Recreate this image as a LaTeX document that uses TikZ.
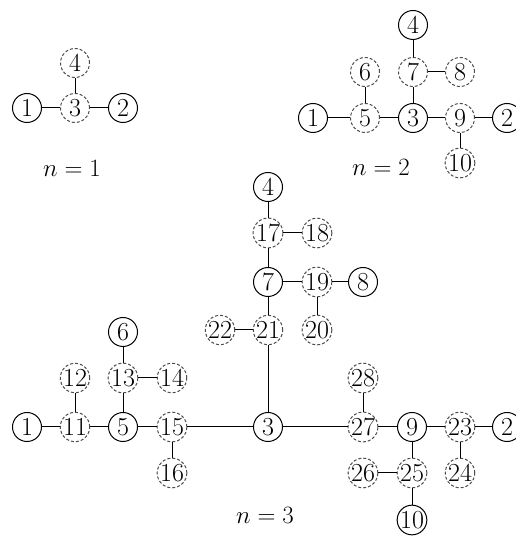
\documentclass[tikz,border=0pt]{standalone}
\begin{document}
\begin{tikzpicture}[x=1pt,y=1pt,
  sc/.style={circle,draw=black,line width=1pt,minimum size=29pt,inner sep=0pt,font=\fontsize{26}{26}\selectfont},
  dc/.style={circle,draw=black!70,dash pattern=on 3pt off 2pt,line width=1pt,minimum size=29pt,inner sep=0pt,font=\fontsize{26}{26}\selectfont},
  ed/.style={draw=black,line width=1pt},
  lab/.style={font=\fontsize{25}{25}\selectfont}]
\useasboundingbox (0,0) rectangle (516,536);
\clip (0,0) rectangle (516,536);
% n=1
\node[sc] (a1) at (27,428) {1};
\node[dc] (a3) at (75,428) {3};
\node[sc] (a2) at (123,428) {2};
\node[dc] (a4) at (75,473) {4};
\draw[ed] (a1)--(a3) (a3)--(a2) (a3)--(a4);
\node[lab] (l1) at (72,368) {$n=1$};
% n=2
\node[sc] (b4) at (413,511) {4};
\node[dc] (b6) at (365,464) {6};
\node[dc] (b7) at (413,464) {7};
\node[dc] (b8) at (460,464) {8};
\node[sc] (b1) at (313,418) {1};
\node[dc] (b5) at (365,418) {5};
\node[sc] (b3) at (413,418) {3};
\node[dc] (b9) at (460,418) {9};
\node[sc] (b2) at (507,418) {2};
\node[dc] (b10) at (460,373) {10};
\draw[ed] (b1)--(b5) (b5)--(b3) (b3)--(b9) (b9)--(b2) (b5)--(b6) (b3)--(b7) (b7)--(b4) (b7)--(b8) (b9)--(b10);
\node[lab] (l2) at (381,369) {$n=2$};
% n=3
\node[sc] (c4) at (268,349) {4};
\node[dc] (c17) at (268,303) {17};
\node[dc] (c18) at (317,303) {18};
\node[sc] (c7) at (268,254) {7};
\node[dc] (c19) at (317,254) {19};
\node[sc] (c8) at (363,254) {8};
\node[dc] (c22) at (220,206) {22};
\node[dc] (c21) at (268,206) {21};
\node[dc] (c20) at (317,206) {20};
\node[sc] (c6) at (123,204) {6};
\node[dc] (c12) at (75,158) {12};
\node[dc] (c13) at (123,158) {13};
\node[dc] (c14) at (172,158) {14};
\node[dc] (c28) at (363,158) {28};
\node[sc] (c1) at (27,109) {1};
\node[dc] (c11) at (75,109) {11};
\node[sc] (c5) at (123,109) {5};
\node[dc] (c15) at (172,109) {15};
\node[sc] (c3) at (268,109) {3};
\node[dc] (c27) at (363,109) {27};
\node[sc] (c9) at (412,109) {9};
\node[dc] (c23) at (460,109) {23};
\node[sc] (c2) at (507,109) {2};
\node[dc] (c16) at (172,63) {16};
\node[dc] (c26) at (363,63) {26};
\node[dc] (c25) at (412,63) {25};
\node[dc] (c24) at (460,63) {24};
\node[sc] (c10) at (412,16) {10};
\draw[ed] (c1)--(c11) (c11)--(c12) (c11)--(c5) (c5)--(c13) (c13)--(c6) (c13)--(c14)
  (c5)--(c15) (c15)--(c16) (c15)--(c3) (c3)--(c21) (c21)--(c22) (c21)--(c7)
  (c7)--(c17) (c17)--(c4) (c17)--(c18) (c7)--(c19) (c19)--(c8) (c19)--(c20)
  (c3)--(c27) (c27)--(c28) (c27)--(c9) (c9)--(c25) (c25)--(c26) (c25)--(c10)
  (c9)--(c23) (c23)--(c24) (c23)--(c2);
\node[lab] (l3) at (265,21) {$n=3$};
\end{tikzpicture}
\end{document}
